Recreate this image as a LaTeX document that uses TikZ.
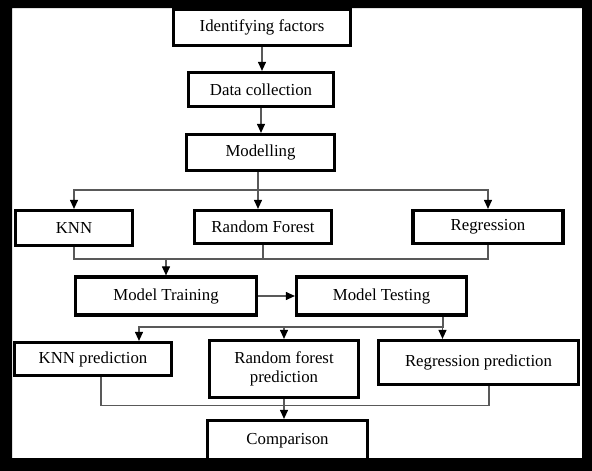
\documentclass[tikz,border=0pt]{standalone}
\usepackage{fontspec}
\setmainfont{Liberation Serif}
\usetikzlibrary{arrows.meta}
\tikzset{
  etape/.style={draw,line width=3.2pt,fill=white,inner sep=2pt,align=center,
    font=\fontsize{16.8}{19.5}\selectfont},
  fleche/.style={draw=black!65,line width=1.1pt,-{Triangle[length=9pt,width=8pt,color=black]}},
  trait/.style={draw=black!65,line width=1.1pt}
}
\begin{document}
\begin{tikzpicture}[x=1pt,y=-1pt]
  \useasboundingbox (0,0) rectangle (592,471);
  \fill[white] (0,0) rectangle (592,471);
  % les etapes
  \node[etape,minimum width=177pt,minimum height=36pt] (ident) at (262,27.5) {Identifying factors};
  \node[etape,minimum width=145pt,minimum height=34pt] (data) at (261,89.5) {Data collection};
  \node[etape,minimum width=148pt,minimum height=36pt] (model) at (260.5,152.5) {Modelling};
  \node[etape,minimum width=117pt,minimum height=35pt] (knn) at (74,228) {KNN};
  \node[etape,minimum width=137pt,minimum height=33pt] (rf) at (263,227) {Random Forest};
  \node[etape,minimum width=150pt,minimum height=33pt] (reg) at (488,227) {Regression};
  \node[etape,minimum width=181pt,minimum height=38pt] (train) at (166,296) {Model Training};
  \node[etape,minimum width=170pt,minimum height=38pt] (test) at (381.5,296) {Model Testing};
  \node[etape,minimum width=157pt,minimum height=33pt] (knnp) at (93,359) {KNN prediction};
  \node[etape,minimum width=149pt,minimum height=57pt] (rfp) at (284,369) {Random forest\\prediction};
  \node[etape,minimum width=200pt,minimum height=44pt] (regp) at (478.5,362.5) {Regression prediction};
  \node[etape,minimum width=160pt,minimum height=40pt] (comp) at (287.5,440.5) {Comparison};
  % liaisons
  \draw[fleche] (ident.south) -- (ident.south |- data.north);
  \draw[fleche] (data.south) -- (data.south |- model.north);
  \coordinate (split1) at (258,190);
  \draw[trait] (split1 |- model.south) -- (split1);
  \draw[fleche] (split1) -| (knn.north);
  \draw[fleche] (split1) -- (split1 |- rf.north);
  \draw[fleche] (split1) -| (reg.north);
  \coordinate (join1) at (166,259);
  \draw[trait] (knn.south) |- (join1);
  \draw[trait] (reg.south) |- (join1);
  \draw[trait] (rf.south) -- (rf.south |- join1);
  \draw[fleche] (join1) -- (train.north);
  \draw[fleche] (train.east) -- (test.west);
  \coordinate (split2) at (443,327);
  \draw[trait] (split2 |- test.south) -- (split2);
  \draw[fleche] (split2) -| ([xshift=46pt]knnp.north);
  \draw[fleche] (split2 -| rfp.north) -- (rfp.north);
  \draw[fleche] (split2) -| ([xshift=-36pt]regp.north);
  \coordinate (join2) at (285,405.5);
  \draw[trait] ([xshift=8pt]knnp.south) |- (join2);
  \draw[trait] ([xshift=10.5pt]regp.south) |- (join2);
  \draw[fleche] (rfp.south) -- (rfp.south |- comp.north);
  % cadre noir
  \fill[black,even odd rule] (0,0) rectangle (592,471) (12,8) rectangle (582,458);
\end{tikzpicture}
\end{document}
